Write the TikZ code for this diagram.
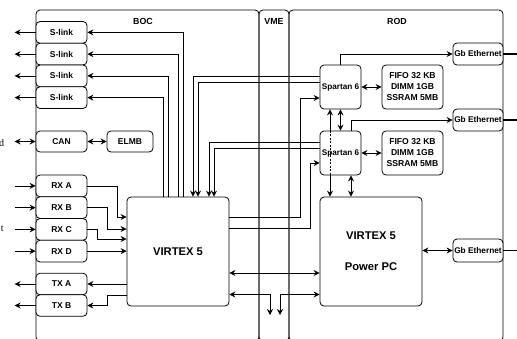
\documentclass[tikz,border=0pt]{standalone}
\usepackage{fontspec}
\setmainfont{Liberation Sans}
\newfontfamily\serifface{Liberation Serif}
\usetikzlibrary{arrows.meta}
\tikzset{
  box/.style={draw, rounded corners=4pt, fill=white, inner sep=0pt, font=\bfseries\fontsize{8.5}{10}\selectfont, align=center},
  cont/.style={draw, rounded corners=4pt},
  lbl/.style={inner sep=0pt, font=\bfseries\fontsize{8.8}{10}\selectfont},
  arr/.style={-{Stealth[length=6pt,width=6pt,inset=2pt]}},
  darr/.style={{Stealth[length=6pt,width=6pt,inset=2pt]}-{Stealth[length=6pt,width=6pt,inset=2pt]}}
}
\begin{document}
\begin{tikzpicture}[x=1pt,y=-1pt,line width=0.8pt]
\useasboundingbox (0,0) rectangle (517,338);
\clip (0,0) rectangle (517,338);
% containers
\draw[cont] (36,10) rectangle (259,341);
\draw[cont] (259,10) rectangle (289,341);
\draw[cont] (289,10) rectangle (503,341);
\node[lbl] (boc) at (143,21) {BOC};
\node[lbl] (vme) at (274,21) {VME};
\node[lbl] (rod) at (397,21) {ROD};
% truncated outside texts
\node[anchor=east, inner sep=0pt, font=\serifface\fontsize{10}{12}\selectfont] (tx1) at (4.5,143) {d};
\node[anchor=east, inner sep=0pt, font=\serifface\fontsize{10}{12}\selectfont] (tx2) at (4,229) {t};
% BOC boxes
\foreach \n/\y in {s1/32.4, s2/54.1, s3/75.9, s4/97.6}
  \node[box, minimum width=51pt, minimum height=21.75pt] (\n) at (61.5,\y) {S-link};
\node[box, minimum width=51pt, minimum height=21pt] (can) at (61.5,141.5) {CAN};
\node[box, minimum width=46pt, minimum height=21pt] (elmb) at (130,141.5) {ELMB};
\node[box, minimum width=51pt, minimum height=21.75pt] (rxa) at (61.5,185.9) {RX A};
\node[box, minimum width=51pt, minimum height=21.75pt] (rxb) at (61.5,207.6) {RX B};
\node[box, minimum width=51pt, minimum height=21.75pt] (rxc) at (61.5,229.4) {RX C};
\node[box, minimum width=51pt, minimum height=21.75pt] (rxd) at (61.5,251.1) {RX D};
\node[box, minimum width=51pt, minimum height=21.5pt] (txa) at (61.5,284) {TX A};
\node[box, minimum width=51pt, minimum height=21.5pt] (txb) at (61.5,305.5) {TX B};
\node[box, minimum width=102pt, minimum height=109pt, font=\bfseries\fontsize{11.2}{13}\selectfont] (v1) at (178,251.5) {VIRTEX 5};
% ROD boxes
\node[box, minimum width=41pt, minimum height=44pt, font=\bfseries\fontsize{8.2}{10}\selectfont] (sp1) at (340.5,87) {Spartan 6};
\node[box, minimum width=41pt, minimum height=44pt, font=\bfseries\fontsize{8.2}{10}\selectfont] (sp2) at (340.5,153) {Spartan 6};
\node[box, minimum width=61pt, minimum height=44pt, font=\bfseries\fontsize{8.6}{11}\selectfont] (fifo1) at (412.5,87) {FIFO 32 KB\\DIMM 1GB\\SSRAM 5MB};
\node[box, minimum width=61pt, minimum height=44pt, font=\bfseries\fontsize{8.6}{11}\selectfont] (fifo2) at (412.5,153) {FIFO 32 KB\\DIMM 1GB\\SSRAM 5MB};
\node[box, minimum width=50pt, minimum height=22pt, font=\bfseries\fontsize{8.3}{10}\selectfont] (gbe1) at (478,54) {Gb Ethernet};
\node[box, minimum width=50pt, minimum height=22pt, font=\bfseries\fontsize{8.3}{10}\selectfont] (gbe2) at (478,120) {Gb Ethernet};
\node[box, minimum width=50pt, minimum height=23pt, font=\bfseries\fontsize{8.3}{10}\selectfont] (gbe3) at (478,250.5) {Gb Ethernet};
\node[box, minimum width=102pt, minimum height=109pt, font=\bfseries\fontsize{11.2}{13}\selectfont] (v2) at (371,251.5) {VIRTEX 5\\[18pt]Power PC};
% S-link outputs
\foreach \n in {s1,s2,s3,s4,txa,txb}
  \draw[arr] (\n.west) -- ++(-21,0);
\draw[darr] (can.west) -- ++(-21,0);
\draw[darr] (can.east) -- (elmb.west);
\foreach \n in {rxa,rxb,rxc,rxd}
  \draw[arr] (\n.west) ++(-21,0) -- (\n.west);
% VIRTEX -> S-link
\draw[arr] (v1.north -| 183,0) |- (s1.east);
\draw[arr] (v1.north -| 178,0) |- (s2.east);
\draw[arr] (v1.north -| 168,0) |- (s3.east);
\draw[arr] (v1.north -| 163,0) |- (s4.east);
% Spartan -> VIRTEX (BOC)
\draw[arr] (sp1.west |- 0,76) -| (v1.north -| 193,0);
\draw[arr] (sp1.west |- 0,82) -| (v1.north -| 198,0);
\draw[arr] (sp2.west |- 0,142) -| (v1.north -| 209,0);
\draw[arr] (sp2.west |- 0,148) -| (v1.north -| 214,0);
% VIRTEX (BOC) -> Spartan
\draw[arr] (v1.east |- 0,217) -| (300,98) -- (sp1.west |- 0,98);
\draw[arr] (v1.east |- 0,228) -| (310,163) -- (sp2.west |- 0,163);
% RX -> VIRTEX
\draw[arr] (rxa.east) -| (117,217) -- (v1.west |- 0,217);
\draw[arr] (rxb.east) -| (107,229) -- (v1.west |- 0,229);
\draw[arr] (rxc.east) -| (97,239) -- (v1.west |- 0,239);
\draw[arr] (rxd.east) -- (v1.west |- rxd.east);
% VIRTEX -> TX
\draw[arr] (v1.west |- txa.east) -- (txa.east);
\draw[arr] (v1.west |- 0,295) -| (107,305.5) -- (txb.east);
% VIRTEX <-> VIRTEX and bus
\draw[darr] (v1.east |- 0,273) -- (v2.west |- 0,273);
\coordinate (b1) at (270,315);
\coordinate (b2) at (280,315);
\draw[darr] (v1.east |- 0,294.5) -| (b1);
\draw[darr] (v2.west |- 0,294.5) -| (b2);
% Spartan -> Gb Ethernet
\draw[arr] (sp1.north) |- (gbe1.west);
\draw[arr] (sp2.north -| 351,0) |- (gbe2.west);
\draw[darr] (sp1.south) -- (sp2.north);
\draw[darr] (sp1.east) -- (fifo1.west);
\draw[darr] (sp2.east) -- (fifo2.west);
% Spartan1 <-> VIRTEX (ROD), dashed through Spartan2
\draw[arr] (sp2.north -| 330,0) -- (sp1.south -| 330,0);
\draw[dashed, line width=0.7pt, dash pattern=on 2pt off 1.5pt] (sp2.north -| 330,0) -- (sp2.south -| 330,0);
\draw[arr] (sp2.south -| 330,0) -- (v2.north -| 330,0);
\draw[darr] (sp2.south -| 351,0) -- (v2.north -| 351,0);
\draw[darr] (v2.east |- gbe3.west) -- (gbe3.west);
% Gb Ethernet outputs
\foreach \n in {gbe1,gbe2,gbe3}
  \draw[line width=1.1pt] (\n.east) -- ++(20,0);
\end{tikzpicture}
\end{document}
